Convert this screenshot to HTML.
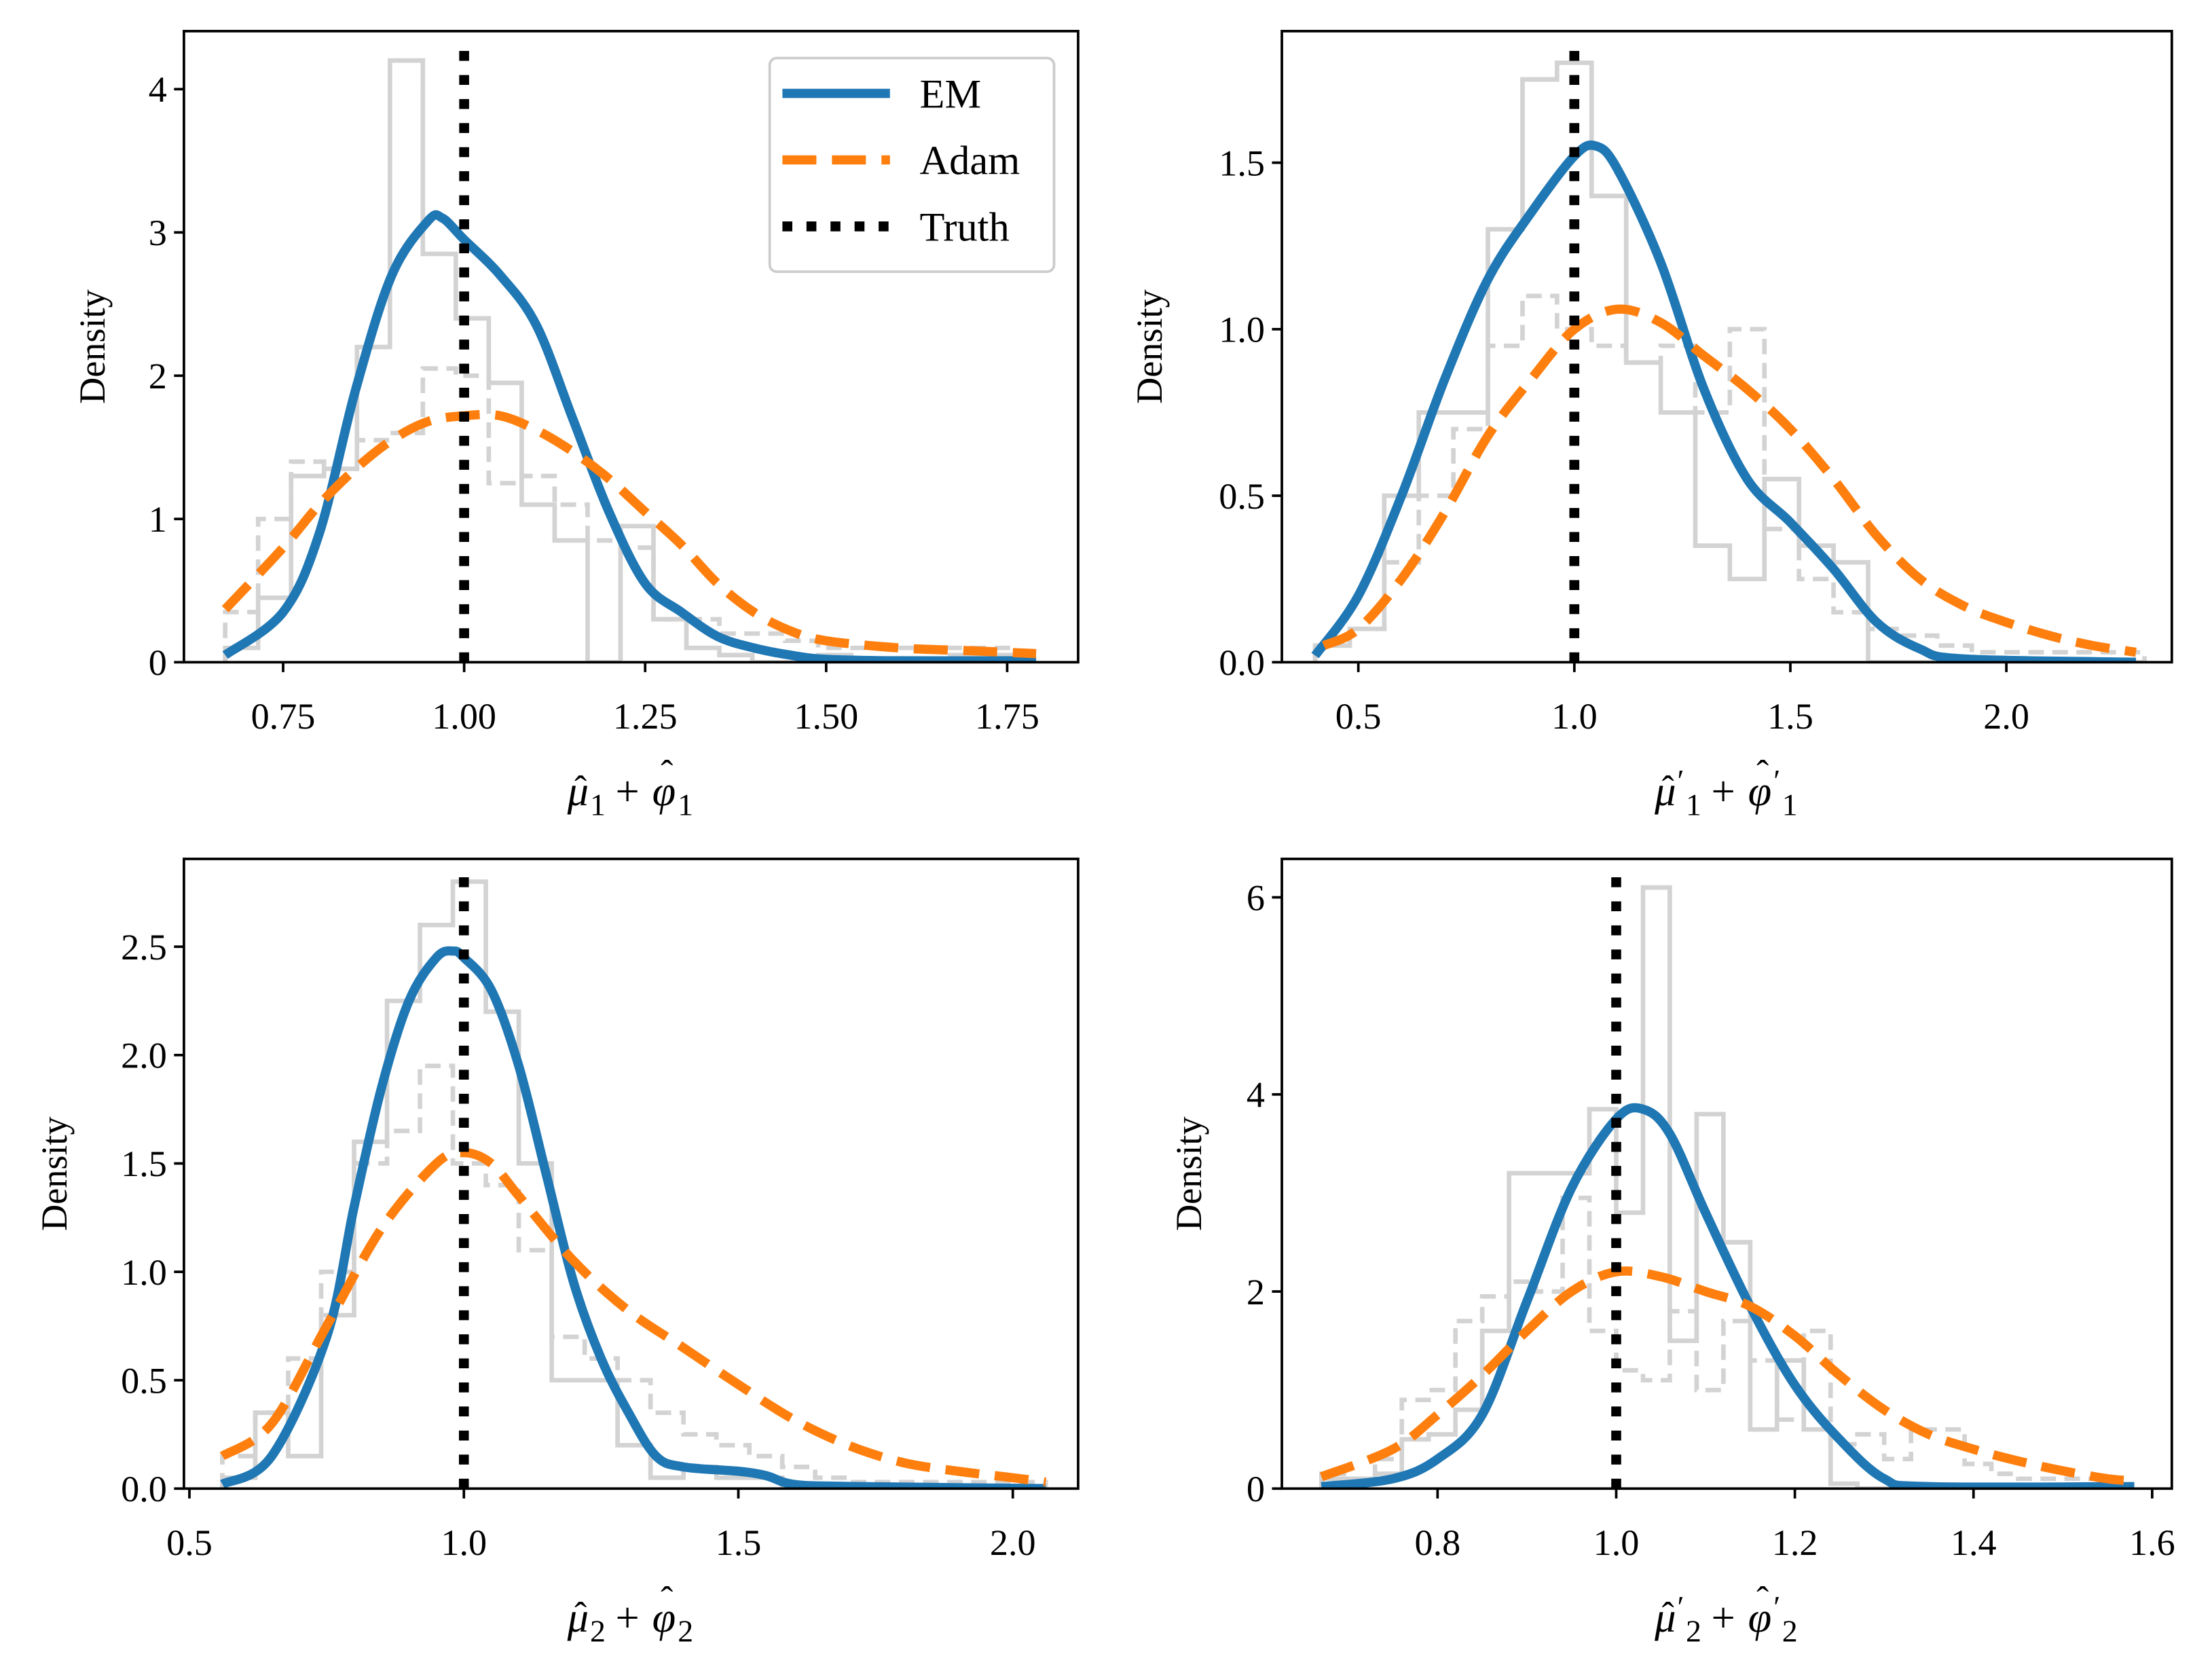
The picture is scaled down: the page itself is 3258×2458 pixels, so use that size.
<!DOCTYPE html>
<html><head><meta charset="utf-8">
<style>
html,body{margin:0;padding:0;background:#fff;}
svg{display:block;}
text{font-family:"Liberation Serif",serif;fill:#000;}
</style></head>
<body>
<svg id="chart" xmlns="http://www.w3.org/2000/svg" width="3258" height="2458" viewBox="0 0 1563.4 1179.5">
<rect width="1563.4" height="1179.5" fill="#fff"/>
</svg>
<script>
// ---- Panel 1 data ----
const p1EmX = [0.67,0.75,0.8,0.85,0.9,0.95,0.97,1.0,1.05,1.1,1.15,1.2,1.25,1.3,1.35,1.4,1.45,1.5,1.6,1.79];
const p1EmY = [0.05,0.35,0.9,1.9,2.7,3.08,3.1,2.95,2.7,2.35,1.7,1.05,0.55,0.35,0.18,0.1,0.05,0.02,0.01,0.01];
const p1AdX = [0.67,0.75,0.8,0.85,0.9,0.95,1.0,1.05,1.1,1.15,1.2,1.25,1.3,1.35,1.4,1.45,1.5,1.6,1.7,1.79];
const p1AdY = [0.37,0.8,1.1,1.35,1.55,1.68,1.72,1.72,1.62,1.47,1.28,1.05,0.82,0.55,0.35,0.22,0.15,0.1,0.08,0.06];
const p1HistStart = 0.67, p1HistW = 0.0455;
const p1HistEm = [0.1,0.45,1.3,1.35,2.2,4.2,2.85,2.4,1.95,1.1,0.85,0.0,0.95,0.3,0.1,0.05,0.0,0.0,0.05,0.0,0.0,0.0,0.05,0.05];
const p1HistAd = [0.35,1.0,1.4,1.35,1.55,1.6,2.05,2.0,1.25,1.3,1.1,0.85,0.8,0.3,0.3,0.2,0.2,0.15,0.1,0.1,0.1,0.1,0.1,0.1];
const p1Ticks = [0.75,1.0,1.25,1.5,1.75];
const p1TickLabels = ["0.75","1.00","1.25","1.50","1.75"];
const p1YTicks = [0,1,2,3,4];
const p1YLabels = ["0","1","2","3","4"];
// ---- Panel 2 data ----
const p2EmX = [0.4,0.5,0.6,0.7,0.8,0.9,1.0,1.05,1.1,1.2,1.3,1.4,1.5,1.6,1.7,1.8,1.9,2.3];
const p2EmY = [0.02,0.2,0.5,0.85,1.15,1.35,1.52,1.55,1.48,1.2,0.82,0.55,0.42,0.28,0.12,0.04,0.01,0.0];
const p2AdX = [0.42,0.5,0.6,0.7,0.8,0.9,1.0,1.1,1.2,1.3,1.4,1.5,1.6,1.7,1.8,1.9,2.0,2.1,2.2,2.3];
const p2AdY = [0.05,0.1,0.25,0.45,0.68,0.85,1.0,1.06,1.02,0.92,0.82,0.7,0.55,0.38,0.25,0.17,0.12,0.08,0.05,0.03];
const p2HistStart = 0.4, p2HistW = 0.08;
const p2HistEm = [0.05,0.1,0.5,0.75,0.75,1.3,1.75,1.8,1.4,0.9,0.75,0.35,0.25,0.55,0.35,0.3,0.0,0,0,0,0,0,0,0];
const p2HistAd = [0.05,0.1,0.3,0.5,0.7,0.95,1.1,1.0,0.95,0.9,0.95,0.75,1.0,0.4,0.25,0.15,0.1,0.08,0.05,0.03,0.03,0.03,0.03,0.03];
const p2Ticks = [0.5,1.0,1.5,2.0];
const p2TickLabels = ["0.5","1.0","1.5","2.0"];
const p2YTicks = [0,0.5,1.0,1.5];
const p2YLabels = ["0.0","0.5","1.0","1.5"];
// ---- Panel 3 data ----
const p3EmX = [0.56,0.65,0.75,0.8,0.85,0.9,0.95,0.98,1.0,1.05,1.1,1.15,1.2,1.25,1.3,1.35,1.4,1.5,1.55,1.6,1.7,2.06];
const p3EmY = [0.02,0.15,0.7,1.3,1.85,2.25,2.45,2.48,2.45,2.3,1.95,1.45,0.95,0.6,0.35,0.15,0.1,0.08,0.06,0.02,0.01,0.0];
const p3AdX = [0.56,0.65,0.75,0.85,0.95,1.0,1.05,1.1,1.2,1.3,1.4,1.5,1.6,1.7,1.8,1.9,2.0,2.06];
const p3AdY = [0.15,0.3,0.75,1.2,1.5,1.55,1.5,1.35,1.05,0.82,0.65,0.48,0.32,0.2,0.12,0.08,0.05,0.03];
const p3HistStart = 0.56, p3HistW = 0.06;
const p3HistEm = [0.05,0.35,0.15,0.8,1.6,2.25,2.6,2.8,2.2,1.5,0.5,0.5,0.2,0.05,0.1,0.05,0.05,0,0,0,0,0,0,0,0];
const p3HistAd = [0.15,0.35,0.6,1.0,1.5,1.65,1.95,1.5,1.4,1.1,0.7,0.6,0.5,0.35,0.25,0.2,0.15,0.1,0.05,0.03,0.03,0.03,0.03,0.03,0.03];
const p3Ticks = [0.5,1.0,1.5,2.0];
const p3TickLabels = ["0.5","1.0","1.5","2.0"];
const p3YTicks = [0,0.5,1.0,1.5,2.0,2.5];
const p3YLabels = ["0.0","0.5","1.0","1.5","2.0","2.5"];
// ---- Panel 4 data ----
const p4EmX = [0.67,0.75,0.8,0.85,0.9,0.95,1.0,1.03,1.06,1.1,1.15,1.2,1.25,1.3,1.35,1.58];
const p4EmY = [0.02,0.1,0.3,0.75,1.9,3.05,3.75,3.85,3.6,2.8,1.85,1.05,0.5,0.1,0.02,0.02];
const p4AdX = [0.67,0.75,0.8,0.85,0.9,0.95,1.0,1.05,1.1,1.15,1.2,1.25,1.3,1.35,1.4,1.45,1.5,1.55,1.58];
const p4AdY = [0.12,0.4,0.75,1.15,1.6,2.0,2.2,2.15,2.0,1.85,1.55,1.15,0.8,0.55,0.4,0.28,0.18,0.1,0.08];
const p4HistStart = 0.67, p4HistW = 0.03;
const p4HistEm = [0.1,0.1,0.15,0.5,0.55,0.8,1.6,3.2,3.2,3.2,3.85,2.8,6.1,1.5,3.8,2.5,0.6,1.3,0.6,0.05,0,0,0,0,0,0,0,0,0,0];
const p4HistAd = [0.15,0.1,0.3,0.9,1.0,1.7,1.95,2.1,2.0,2.95,1.6,1.2,1.1,1.8,1.0,1.7,1.3,0.7,1.6,0.45,0.55,0.3,0.6,0.6,0.25,0.15,0.1,0.1,0.1,0.05];
const p4Ticks = [0.8,1.0,1.2,1.4,1.6];
const p4TickLabels = ["0.8","1.0","1.2","1.4","1.6"];
const p4YTicks = [0,2,4,6];
const p4YLabels = ["0","2","4","6"];
const truthValue = 1.0;

const NS = "http://www.w3.org/2000/svg";
const svg = document.getElementById('chart');
function mk(tag, attrs, parent){
  const e = document.createElementNS(NS, tag);
  for (const k in attrs) e.setAttribute(k, attrs[k]);
  (parent||svg).appendChild(e);
  return e;
}
function smoothPath(pts){
  let d = "M"+pts[0][0].toFixed(2)+","+pts[0][1].toFixed(2);
  for (let i=0;i<pts.length-1;i++){
    const p0=pts[Math.max(0,i-1)], p1=pts[i], p2=pts[i+1], p3=pts[Math.min(pts.length-1,i+2)];
    const c1x=p1[0]+(p2[0]-p0[0])/6, c1y=p1[1]+(p2[1]-p0[1])/6;
    const c2x=p2[0]-(p3[0]-p1[0])/6, c2y=p2[1]-(p3[1]-p1[1])/6;
    d += " C"+c1x.toFixed(2)+","+c1y.toFixed(2)+" "+c2x.toFixed(2)+","+c2y.toFixed(2)+" "+p2[0].toFixed(2)+","+p2[1].toFixed(2);
  }
  return d;
}

const panels = [
 {id:'p1', L:130,R:762,T:22,B:468, x0:0.613,x1:1.848, y1:4.405,
  emX:p1EmX,emY:p1EmY,adX:p1AdX,adY:p1AdY,hs:p1HistStart,hw:p1HistW,he:p1HistEm,ha:p1HistAd,
  xt:p1Ticks,xl:p1TickLabels,yt:p1YTicks,yl:p1YLabels, ylx:65, sub:'1', prime:false, legend:true},
 {id:'p2', L:906,R:1535,T:22,B:468, x0:0.323,x1:2.383, y1:1.895,
  emX:p2EmX,emY:p2EmY,adX:p2AdX,adY:p2AdY,hs:p2HistStart,hw:p2HistW,he:p2HistEm,ha:p2HistAd,
  xt:p2Ticks,xl:p2TickLabels,yt:p2YTicks,yl:p2YLabels, ylx:812, sub:'1', prime:true},
 {id:'p3', L:130,R:762,T:607,B:1052, x0:0.49,x1:2.119, y1:2.905,
  emX:p3EmX,emY:p3EmY,adX:p3AdX,adY:p3AdY,hs:p3HistStart,hw:p3HistW,he:p3HistEm,ha:p3HistAd,
  xt:p3Ticks,xl:p3TickLabels,yt:p3YTicks,yl:p3YLabels, ylx:38, sub:'2', prime:false},
 {id:'p4', L:906,R:1535,T:607,B:1052, x0:0.6257,x1:1.622, y1:6.39,
  emX:p4EmX,emY:p4EmY,adX:p4AdX,adY:p4AdY,hs:p4HistStart,hw:p4HistW,he:p4HistEm,ha:p4HistAd,
  xt:p4Ticks,xl:p4TickLabels,yt:p4YTicks,yl:p4YLabels, ylx:840, sub:'2', prime:true},
];

panels.forEach(p=>{
  const sx = v => p.L + (v-p.x0)/(p.x1-p.x0)*(p.R-p.L);
  const sy = v => p.B - v/p.y1*(p.B-p.T);
  const g = mk('g',{});
  
  
  const cid='clip-'+p.id;
  const cp = mk('clipPath',{id:cid},g); mk('rect',{x:p.L,y:p.T,width:p.R-p.L,height:p.B-p.T},cp);
  const plot = mk('g',{'clip-path':'url(#'+cid+')'},g);
  [[p.he,'none','em'],[p.ha,'11,6','adam']].forEach(([h,dash,nm])=>{
    let d = "M"+sx(p.hs).toFixed(2)+","+sy(0).toFixed(2);
    h.forEach((v,i)=>{
      const xa=sx(p.hs+i*p.hw), xb=sx(p.hs+(i+1)*p.hw);
      d += " L"+xa.toFixed(2)+","+sy(v).toFixed(2)+" L"+xb.toFixed(2)+","+sy(v).toFixed(2);
    });
    d += " L"+sx(p.hs+h.length*p.hw).toFixed(2)+","+sy(0).toFixed(2);
    const e = mk('path',{d:d,fill:'none',stroke:'#d3d3d3','stroke-width':3.2,'stroke-dasharray':dash},plot);
    
    
  });
  const em = mk('path',{d:smoothPath(p.emX.map((x,i)=>[sx(x),sy(p.emY[i])])),fill:'none',stroke:'#1f77b4','stroke-width':6.5,'stroke-linejoin':'round'},plot);
  
  
  const ad = mk('path',{d:smoothPath(p.adX.map((x,i)=>[sx(x),sy(p.adY[i])])),fill:'none',stroke:'#ff7f0e','stroke-width':6.5,'stroke-dasharray':'24,11'},plot);
  
  
  const tr = mk('line',{x1:sx(truthValue),x2:sx(truthValue),y1:p.B,y2:p.T+10,stroke:'#000','stroke-width':7,'stroke-dasharray':'7,10'},plot);
  
  
  mk('rect',{x:p.L,y:p.T,width:p.R-p.L,height:p.B-p.T,fill:'none',stroke:'#000','stroke-width':1.8},g);
  p.xt.forEach((v,i)=>{
    const x=sx(v);
    mk('line',{x1:x,x2:x,y1:p.B,y2:p.B+7,stroke:'#000','stroke-width':1.8},g);
    const t = mk('text',{x:x,y:p.B+47,'font-size':26,'text-anchor':'middle'},g);
    t.textContent = p.xl[i];
    
    
  });
  p.yt.forEach((v,i)=>{
    const y=sy(v);
    mk('line',{x1:p.L-7,x2:p.L,y1:y,y2:y,stroke:'#000','stroke-width':1.8},g);
    const t = mk('text',{x:p.L-12,y:y+9,'font-size':26,'text-anchor':'end'},g);
    t.textContent = p.yl[i];
    
    
  });
  const yl = mk('text',{x:0,y:0,'font-size':26,'text-anchor':'middle',transform:'translate('+(p.ylx+9)+','+((p.T+p.B)/2)+') rotate(-90)'},g);
  yl.textContent='Density';
  
  
  // x label built from positioned pieces
  const cx = (p.L+p.R)/2, by = p.B+101;
  const xl = mk('g',{},g);
  
  
  const pw = p.prime ? 6 : 0;
  const total = 16+pw+12+32+18+pw+12;
  let x = cx - total/2;
  const put = (txt, dx, dy, fs, it) => { const t = mk('text',{x:x+dx,y:by+dy,'font-size':fs,'font-style':it?'italic':'normal'},xl); t.textContent = txt; return t; };
  put('\u03BC',0,0,30,true); put('\u02C6',5,-3,26,false);
  if (p.prime) put('\u2032',16,-10,22,false);
  x += 16+pw; put(p.sub,0,7,22,false); x += 12;
  put('+',6,0,30,false); x += 32;
  put('\u03C6',0,0,30,true); put('\u02C6',6,-14,26,false);
  if (p.prime) put('\u2032',18,-10,22,false);
  x += 18+pw; put(p.sub,0,7,22,false);

  if (p.legend){
    const lg = mk('g',{});
    
    
    mk('rect',{x:544,y:41,width:201,height:151,rx:5,fill:'#fff','fill-opacity':0.8,stroke:'#cccccc','stroke-width':1.8},lg);
    const items=[['EM','#1f77b4','none',66],['Adam','#ff7f0e','24,11',113],['Truth','#000','7,10',160]];
    items.forEach(([lab,col,dash,y])=>{
      const ent = mk('g',{},lg);
      
      
      mk('line',{x1:553,x2:629,y1:y,y2:y,stroke:col,'stroke-width':col==='#000'?7:6.5,'stroke-dasharray':dash},ent);
      const t = mk('text',{x:650,y:y+10,'font-size':29},ent); t.textContent=lab;
    });
  }
});
</script>
</body></html>
